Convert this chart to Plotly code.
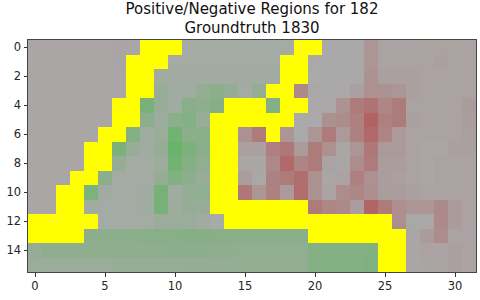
import plotly.graph_objects as go

N = None
row00 = [-5,-5,-5,-5,-5,-5,-7,-5,N,N,N,8,8,8,8,8,8,8,8,N,N,-2,-2,-2,-25,-8,-8,-8,-10,-10,-10,-10]
row01 = [-5,-5,-5,-5,-5,-5,-6,N,N,N,10,10,10,10,10,10,10,10,N,N,-2,-1,-1,-1,-25,-8,-8,-8,-10,-12,-10,-10]
row02 = [-5,-5,-5,-5,-5,-5,-5,N,N,12,12,12,12,12,12,12,12,12,N,N,2,-1,-1,-1,-28,-12,-12,-12,-10,-10,-10,-10]
row03 = [-5,-5,-5,-5,-5,-5,-5,N,N,25,14,12,30,42,30,8,30,N,N,-38,-3,-2,-2,-12,-30,-28,-25,-12,-10,-10,-8,-8]
row04 = [-5,-5,-5,-5,-5,-5,N,N,65,25,15,45,38,48,N,N,N,50,N,N,-2,-3,-28,-55,-65,-42,-55,-10,-8,-8,-8,-18]
row05 = [-5,-5,-5,-5,-5,-5,N,N,40,18,42,52,25,N,N,N,N,N,N,0,0,-30,-35,-50,-85,-50,-55,-12,-8,-8,-8,-15]
row06 = [-5,-5,-5,-5,-5,N,N,50,15,20,75,42,45,N,N,-30,-55,N,-25,0,-25,-55,-20,-48,-75,-45,-20,-10,-8,-8,-8,-12]
row07 = [-5,-5,-5,-5,N,N,62,25,12,30,85,62,45,N,N,-12,-12,-50,-60,-20,-55,-30,-5,-25,-60,-20,-20,-8,-5,-5,-12,-12]
row08 = [-5,-5,-5,-5,N,N,30,10,10,18,75,50,35,N,N,-5,-5,-40,-75,-45,-55,-8,-5,-35,-55,-15,-15,-10,-5,-8,-10,-10]
row09 = [-5,-5,-5,N,N,40,8,8,10,30,55,40,25,N,N,-15,-3,-48,-55,-70,-30,-5,-8,-50,-30,-15,-12,-10,-5,-8,-8,-8]
row10 = [-5,-5,N,N,60,12,8,8,15,70,15,30,35,N,N,-60,-25,-50,-20,-72,-30,-8,-35,-42,-32,-15,-15,-12,-10,-10,-8,-10]
row11 = [-5,-5,N,N,15,8,8,8,15,68,18,30,25,N,N,N,N,N,N,N,-55,-42,-38,-15,-80,-55,-32,-25,-25,-38,-18,-10]
row12 = [N,N,N,N,N,8,8,8,10,20,22,22,12,5,N,N,N,N,N,N,N,N,N,N,N,N,-32,-3,-3,-38,-18,-8]
row13 = [N,N,N,N,40,42,42,42,44,44,44,48,48,46,44,44,45,45,45,45,N,N,N,N,N,N,N,-5,-18,-35,-8,-8]
row14 = [28,38,38,38,38,38,38,38,38,38,40,40,40,38,38,35,35,35,35,35,50,52,52,52,55,N,N,-5,-8,-8,-12,-10]
row15 = [20,20,20,20,20,20,24,24,24,24,24,28,28,28,28,32,32,32,32,32,50,52,52,52,58,N,N,-5,-6,-8,-12,-10]
rows = [row00,row01,row02,row03,row04,row05,row06,row07,row08,row09,row10,row11,row12,row13,row14,row15]
x_ticks = [0,5,10,15,20,25,30]
y_ticks = [0,2,4,6,8,10,12,14]
title = "Positive/Negative Regions for 182<br>Groundtruth 1830"

mask = [[1 if v is None else None for v in r] for r in rows]

fig = go.Figure()
fig.add_trace(go.Heatmap(
    z=rows, zmin=-100, zmax=100, showscale=False, hoverongaps=False,
    colorscale=[[0,"#b25555"],[0.5,"#aaaaaa"],[1,"#5fb560"]]))
fig.add_trace(go.Heatmap(
    z=mask, zmin=0, zmax=1, showscale=False, hoverongaps=False,
    colorscale=[[0,"#ffff00"],[1,"#ffff00"]]))

axis = dict(ticks="outside", ticklen=3.5, tickwidth=1, tickcolor="#333", showgrid=False, zeroline=False,
            showline=True, linecolor="#444", linewidth=1, mirror=True,
            tickfont=dict(family="DejaVu Sans", size=11.5, color="#262626"))
fig.update_xaxes(range=[-0.5,31.5], tickvals=x_ticks, **axis)
fig.update_yaxes(range=[15.5,-0.5], tickvals=y_ticks, **axis)
fig.update_layout(
    width=480, height=300, margin=dict(l=28,r=4,t=40,b=28),
    paper_bgcolor="white", plot_bgcolor="#aaaaaa",
    title=dict(text=title, x=0.525, xanchor="center", y=0.955, yanchor="top",
               font=dict(family="DejaVu Sans", size=15, color="#111")))
fig.write_html("out.html", config=dict(displayModeBar=False),
               post_script="document.body.style.margin='0';document.documentElement.style.overflow='hidden';")
